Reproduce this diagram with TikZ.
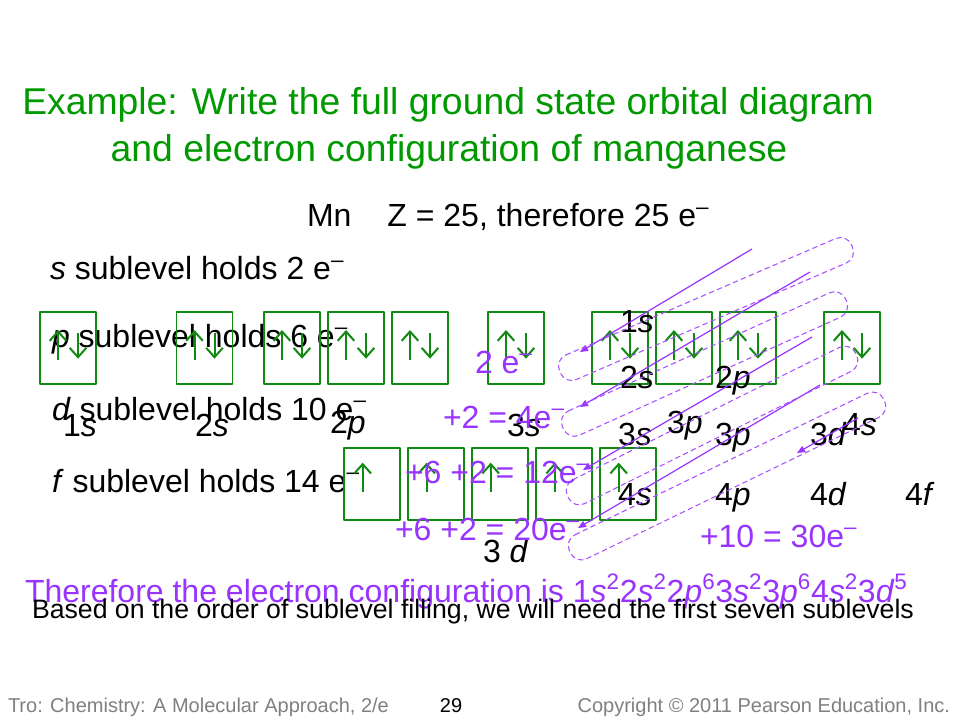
\documentclass[tikz,border=0pt]{standalone}
\usepackage{fontspec}
\setmainfont{Liberation Sans}
\usepackage{xcolor}
\usepackage{tikz}
\usetikzlibrary{calc,positioning,arrows.meta}
\definecolor{titlegreen}{HTML}{009900}
\definecolor{boxgreen}{HTML}{118A11}
\definecolor{elpurple}{HTML}{9933FF}
\definecolor{footgray}{HTML}{808080}
\tikzset{
  body/.style={font=\fontsize{24}{28}\selectfont, anchor=base west},
  headline/.style={font=\fontsize{28}{32}\selectfont, text=titlegreen, anchor=base},
  elec/.style={body, text=elpurple},
  footer/.style={font=\fontsize{15}{17}\selectfont, text=footgray, anchor=base west},
  orbbox/.style={draw=boxgreen, line width=1pt, minimum width=42pt, minimum height=54pt},
  spin/.style={draw=boxgreen, line width=1.5pt, line cap=butt,
    -{Straight Barb[length=7pt, width=12.5pt, line cap=butt]}},
  fillorder/.style={draw=elpurple, line width=0.9pt,
    -{Triangle[length=6pt, width=5pt]}},
  orderloop/.style={draw=elpurple!85, line width=0.8pt, dash pattern=on 4pt off 2.5pt,
    rounded corners=9pt}
}
\newcommand{\PairBox}[2]{%
  % #1 = node name, #2 = centre
  \node[orbbox] (#1) at (#2) {};
  \draw[spin] ([xshift=-7.5pt, yshift=-9pt]#1.center) -- ([xshift=-7.5pt, yshift=13.5pt]#1.center);
  \draw[spin] ([xshift=7.5pt, yshift=11pt]#1.center) -- ([xshift=7.5pt, yshift=-8pt]#1.center);
}
\newcommand{\UpBox}[2]{%
  % #1 = node name, #2 = centre
  \node[orbbox] (#1) at (#2) {};
  \draw[spin] ([xshift=-7pt, yshift=-6pt]#1.center) -- ([xshift=-7pt, yshift=16pt]#1.center);
}
\newcommand{\OrderLoop}[2]{%
  % #1 = lower-left end, #2 = upper-right end
  \draw[orderloop] ($(#1)!10pt!90:(#2)$) -- ($(#2)!10pt!-90:(#1)$)
    -- ($(#2)!10pt!90:(#1)$) -- ($(#1)!10pt!-90:(#2)$) -- cycle;
}

\begin{document}
\begin{tikzpicture}[x=0.75pt, y=-0.75pt, line join=round,
    every node/.style={inner sep=0pt, outer sep=0pt}]
  \useasboundingbox[fill=white] (0,0) rectangle (960,720);

  % Heading
  \node[headline] (head1) at (448,115) {Example: Write the full ground state orbital diagram};
  \node[headline] (head2) at (449,162) {and electron configuration of manganese};
  \node[body] (mn) at (307,227) {Mn\hspace{27pt}Z = 25, therefore 25 e\textsuperscript{–}};

  % Sublevel capacities
  \node[body] (cap-s) at (50,280) {\textit{s} sublevel holds 2 e\textsuperscript{–}};
  \node[body] (cap-p) at (52,347) {\textit{p} sublevel holds 6 e\textsuperscript{–}};
  \node[body] (cap-d) at (52,420) {\textit{d} sublevel holds 10 e\textsuperscript{–}};
  \node[body] (cap-f) at (52,492) {\textit{f} sublevel holds 14 e\textsuperscript{–}};

  % Orbital boxes, first row
  \PairBox{b1s}{68,348}
  \PairBox{b2s}{204.5,348}
  \PairBox{b2pa}{292,348}
  \PairBox{b2pb}{356,348}
  \PairBox{b2pc}{420,348}
  \PairBox{b3s}{516,348}
  \PairBox{b3pa}{620,348}
  \PairBox{b3pb}{684,348}
  \PairBox{b3pc}{748,348}
  \PairBox{b4s}{852,348}

  % Orbital boxes, second row
  \UpBox{b3da}{372,484}
  \UpBox{b3db}{436,484}
  \UpBox{b3dc}{500,484}
  \UpBox{b3dd}{564,484}
  \UpBox{b3de}{628,484}

  % Box labels
  \node[body] (l1s) at (63,436) {1\textit{s}};
  \node[body] (l2s) at (195,436) {2\textit{s}};
  \node[body] (l2p) at (330,433) {2\textit{p}};
  \node[body] (l3s) at (507,436) {3\textit{s}};
  \node[body] (l3d) at (483,562) {3 \textit{d}};

  % Sublevel grid
  \node[body] (g1s) at (620,332) {1\textit{s}};
  \node[body] (g2s) at (620,388) {2\textit{s}};
  \node[body] (g2p) at (715,388) {2\textit{p}};
  \node[body] (g3s) at (618,445) {3\textit{s}};
  \node[body] (g3px) at (667,433) {3\textit{p}};
  \node[body] (g3p) at (715,445) {3\textit{p}};
  \node[body] (g3d) at (810,445) {3\textit{d}};
  \node[body] (g4sx) at (843,435) {4\textit{s}};
  \node[body] (g4s) at (618,505) {4\textit{s}};
  \node[body] (g4p) at (715,505) {4\textit{p}};
  \node[body] (g4d) at (810,505) {4\textit{d}};
  \node[body] (g4f) at (905,505) {4\textit{f}};

  % Filling order
  \coordinate (a1s) at (752,249);  \coordinate (a1e) at (580,352);
  \coordinate (a2s) at (810,272);  \coordinate (a2e) at (580,407);
  \coordinate (a3s) at (812,337);  \coordinate (a3e) at (583,470);
  \coordinate (a4s) at (820,385);  \coordinate (a4e) at (578,528);
  \coordinate (a5s) at (858,418);  \coordinate (a5e) at (797,453);
  \draw[fillorder] (a1s) -- (a1e);
  \draw[fillorder] (a2s) -- (a2e);
  \draw[fillorder] (a3s) -- (a3e);
  \draw[fillorder] (a4s) -- (a4e);
  \draw[fillorder] (a5s) -- (a5e);

  \coordinate (o1a) at (560,372);  \coordinate (o1b) at (852,246);
  \coordinate (o2a) at (563,428);  \coordinate (o2b) at (846,300);
  \coordinate (o3a) at (568,497);  \coordinate (o3b) at (856,354);
  \coordinate (o4a) at (570,552);  \coordinate (o4b) at (884,400);
  \OrderLoop{o1a}{o1b}
  \OrderLoop{o2a}{o2b}
  \OrderLoop{o3a}{o3b}
  \OrderLoop{o4a}{o4b}

  % Running electron count
  \node[elec] (n1) at (475,373) {2 e\textsuperscript{–}};
  \node[elec] (n2) at (443,428) {+2 = 4e\textsuperscript{–}};
  \node[elec] (n3) at (405,483) {+6 +2 = 12e\textsuperscript{–}};
  \node[elec] (n4) at (395,540) {+6 +2 = 20e\textsuperscript{–}};
  \node[elec] (n5) at (700,547) {+10 = 30e\textsuperscript{–}};

  % Result
  \node[elec] (config) at (25,602) {Therefore the electron configuration is
    1\textit{s}\textsuperscript{2}2\textit{s}\textsuperscript{2}2\textit{p}\textsuperscript{6}3\textit{s}\textsuperscript{2}3\textit{p}\textsuperscript{6}4\textit{s}\textsuperscript{2}3\textit{d}\textsuperscript{5}};
  \node[body, font=\fontsize{20}{23}\selectfont] (note) at (32,618)
    {Based on the order of sublevel filling, we will need the first seven sublevels};

  % Footer
  \node[footer] (src) at (8,712) {Tro: Chemistry: A Molecular Approach, 2/e};
  \node[footer, text=black, anchor=base] (page) at (451,712) {29};
  \node[footer, anchor=base east] (copy) at (950,712) {Copyright \textcopyright{} 2011 Pearson Education, Inc.};
\end{tikzpicture}
\end{document}
